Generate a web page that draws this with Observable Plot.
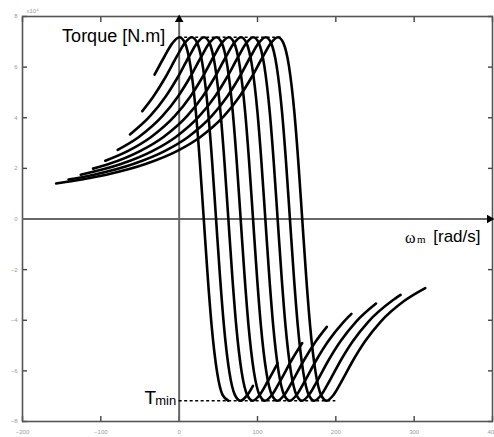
<!DOCTYPE html>
<html>
<head>
<meta charset="utf-8">
<script src="https://cdn.jsdelivr.net/npm/d3@7"></script>
<script src="https://cdn.jsdelivr.net/npm/@observablehq/plot@0.6"></script>
<style>
  html, body { margin: 0; padding: 0; background: #fff; }
</style>
</head>
<body>
<div id="chart"></div>
<script>
// ---- data ----
const xDomain = [-200, 400];
const yDomain = [-8, 8];
const xTicks = [-200, -100, 0, 100, 200, 300, 400];
const yTicks = [-8, -6, -4, -2, 0, 2, 4, 6, 8];
const freqs = [10, 15, 20, 25, 30, 35, 40, 45, 50];

// [speed rad/s, torque] per supply frequency
const f10 = [[-31.4,5.70],[-18.6,6.43],[-8.6,6.95],[0.4,7.18],[7.4,6.95],[14.4,6.05],[21.4,4.20],[26.4,2.26],[31.4,0],[36.4,-2.26],[41.4,-4.20],[48.4,-6.05],[55.4,-6.95],[62.8,-7.18]];
const f15 = [[-47.1,4.26],[-32.9,4.84],[-17.9,5.58],[-2.9,6.43],[7.1,6.95],[16.1,7.18],[23.1,6.95],[30.1,6.05],[37.1,4.20],[42.1,2.26],[47.1,0],[52.1,-2.26],[57.1,-4.20],[64.1,-6.05],[71.1,-6.95],[78.1,-7.18],[87.1,-6.95],[94.2,-6.59]];
const f20 = [[-62.8,3.34],[-37.2,4.06],[-17.2,4.84],[-2.2,5.58],[12.8,6.43],[22.8,6.95],[31.8,7.18],[38.8,6.95],[45.8,6.05],[52.8,4.20],[57.8,2.26],[62.8,0],[67.8,-2.26],[72.8,-4.20],[79.8,-6.05],[86.8,-6.95],[93.8,-7.18],[102.8,-6.95],[112.8,-6.43],[125.7,-5.70]];
const f25 = [[-78.5,2.73],[-51.5,3.24],[-21.5,4.06],[-1.5,4.84],[13.5,5.58],[28.5,6.43],[38.5,6.95],[47.5,7.18],[54.5,6.95],[61.5,6.05],[68.5,4.20],[73.5,2.26],[78.5,0],[83.5,-2.26],[88.5,-4.20],[95.5,-6.05],[102.5,-6.95],[109.5,-7.18],[118.5,-6.95],[128.5,-6.43],[143.5,-5.58],[157.1,-4.90]];
const f30 = [[-94.3,2.30],[-65.8,2.68],[-35.8,3.24],[-5.8,4.06],[14.3,4.84],[29.3,5.58],[44.3,6.43],[54.3,6.95],[63.3,7.18],[70.3,6.95],[77.3,6.05],[84.3,4.20],[89.3,2.26],[94.3,0],[99.3,-2.26],[104.3,-4.20],[111.3,-6.05],[118.3,-6.95],[125.3,-7.18],[134.3,-6.95],[144.3,-6.43],[159.3,-5.58],[174.3,-4.84],[188.5,-4.26]];
const f35 = [[-109.9,1.99],[-90.0,2.17],[-50.0,2.68],[-20.0,3.24],[10.0,4.06],[30.0,4.84],[45.0,5.58],[60.0,6.43],[70.0,6.95],[79.0,7.18],[86.0,6.95],[93.0,6.05],[100.0,4.20],[105.0,2.26],[110.0,0],[115.0,-2.26],[120.0,-4.20],[127.0,-6.05],[134.0,-6.95],[141.0,-7.18],[150.0,-6.95],[160.0,-6.43],[175.0,-5.58],[190.0,-4.84],[210.0,-4.06],[219.9,-3.75]];
const f40 = [[-125.6,1.75],[-74.3,2.17],[-34.3,2.68],[-4.3,3.24],[25.7,4.06],[45.7,4.84],[60.7,5.58],[75.7,6.43],[85.7,6.95],[94.7,7.18],[101.7,6.95],[108.7,6.05],[115.7,4.20],[120.7,2.26],[125.7,0],[130.7,-2.26],[135.7,-4.20],[142.7,-6.05],[149.7,-6.95],[156.7,-7.18],[165.7,-6.95],[175.7,-6.43],[190.7,-5.58],[205.7,-4.84],[225.7,-4.06],[251.3,-3.34]];
const f45 = [[-141.3,1.56],[-108.6,1.75],[-58.6,2.17],[-18.6,2.68],[11.4,3.24],[41.4,4.06],[61.4,4.84],[76.4,5.58],[91.4,6.43],[101.4,6.95],[110.4,7.18],[117.4,6.95],[124.4,6.05],[131.4,4.20],[136.4,2.26],[141.4,0],[146.4,-2.26],[151.4,-4.20],[158.4,-6.05],[165.4,-6.95],[172.4,-7.18],[181.4,-6.95],[191.4,-6.43],[206.4,-5.58],[221.4,-4.84],[241.4,-4.06],[271.4,-3.24],[282.7,-3.00]];
const f50 = [[-157.1,1.40],[-142.9,1.47],[-92.9,1.75],[-42.9,2.17],[-2.9,2.68],[27.1,3.24],[57.1,4.06],[77.1,4.84],[92.1,5.58],[107.1,6.43],[117.1,6.95],[126.1,7.18],[133.1,6.95],[140.1,6.05],[147.1,4.20],[152.1,2.26],[157.1,0],[162.1,-2.26],[167.1,-4.20],[174.1,-6.05],[181.1,-6.95],[188.1,-7.18],[197.1,-6.95],[207.1,-6.43],[222.1,-5.58],[237.1,-4.84],[257.1,-4.06],[287.1,-3.24],[314.2,-2.73]];

const tMax = 7.18;
const tMin = -7.18;
const tMaxLineEnd = 132;  // speed where the dashed Tmax line ends
const tMinLineEnd = 200;  // speed where the dashed Tmin line ends

// ---- build table ----
const series = [f10, f15, f20, f25, f30, f35, f40, f45, f50];
const rows = series.flatMap((pts, i) => pts.map(([w, t]) => ({f: freqs[i], w, t})));

const chart = Plot.plot({
  width: 494,
  height: 437,
  marginLeft: 22,
  marginRight: 2,
  marginTop: 16,
  marginBottom: 16,
  style: {background: "#fff", fontFamily: "'Liberation Sans', Arial, sans-serif"},
  x: {domain: xDomain, label: null},
  y: {domain: yDomain, label: null},
  marks: [
    // tick labels
    Plot.axisX(xTicks, {anchor: "bottom", tickSize: 0, tickPadding: 8, fontSize: 6, fill: "#999", label: null}),
    Plot.axisY(yTicks, {anchor: "left", tickSize: 0, tickPadding: 5, fontSize: 6, fill: "#999", label: null}),
    // inward ticks
    Plot.axisX(xTicks, {anchor: "bottom", tickSize: -5, tickFormat: () => "", stroke: "#444", strokeWidth: 1.4, label: null}),
    Plot.axisX(xTicks, {anchor: "top", tickSize: -5, tickFormat: () => "", stroke: "#444", strokeWidth: 1.4, label: null}),
    Plot.axisY(yTicks, {anchor: "left", tickSize: -5, tickFormat: () => "", stroke: "#444", strokeWidth: 1.4, label: null}),
    Plot.axisY(yTicks, {anchor: "right", tickSize: -5, tickFormat: () => "", stroke: "#444", strokeWidth: 1.4, label: null}),
    Plot.frame({stroke: "#555", strokeWidth: 1.6}),
    // axes through origin
    Plot.ruleY([0], {stroke: "#666", strokeWidth: 2}),
    Plot.ruleX([0], {stroke: "#666", strokeWidth: 2}),
    Plot.dot([0], {x: xDomain[1], y: 0, symbol: "triangle", r: 3.2, fill: "#000", stroke: null, rotate: 90, dx: -3}),
    Plot.dot([0], {x: 0, y: yDomain[1], symbol: "triangle", r: 3.2, fill: "#000", stroke: null, dy: 3}),
    // dashed Tmax / Tmin lines
    Plot.ruleY([tMax], {x1: 0, x2: tMaxLineEnd, stroke: "#000", strokeWidth: 1.3, strokeDasharray: "3,2.5"}),
    Plot.ruleY([tMin], {x1: 0, x2: tMinLineEnd, stroke: "#000", strokeWidth: 1.3, strokeDasharray: "3,2.5"}),
    // torque-speed curves
    Plot.line(rows, {x: "w", y: "t", z: "f", stroke: "#000", strokeWidth: 2.6, curve: "monotone-x"}),
    // annotations
    Plot.text(["Torque [N.m]"], {x: 0, y: tMax, text: d => d, textAnchor: "end", dx: -14, dy: -1, fontSize: 18, fill: "#000"}),
    Plot.text(["T"], {x: 0, y: tMin, text: d => d, textAnchor: "end", dx: -23, dy: -3, fontSize: 19, fill: "#000"}),
    Plot.text(["min"], {x: 0, y: tMin, text: d => d, textAnchor: "end", dx: -3, dy: 0, fontSize: 13, fill: "#000"}),
    Plot.text(["[rad/s]"], {x: xDomain[1], y: 0, text: d => d, textAnchor: "end", dx: -12, dy: 18, fontSize: 17, fill: "#000"}),
    Plot.text(["ω"], {x: xDomain[1], y: 0, text: d => d, textAnchor: "end", dx: -77, dy: 19, fontSize: 16, fill: "#000", fontFamily: "'Liberation Serif', 'Times New Roman', serif"}),
    Plot.text(["m"], {x: xDomain[1], y: 0, text: d => d, textAnchor: "end", dx: -67, dy: 20, fontSize: 11, fill: "#000", fontFamily: "'Liberation Serif', 'Times New Roman', serif"}),
    Plot.text(["x10⁴"], {frameAnchor: "top-left", text: d => d, textAnchor: "start", dx: 4, dy: -8, fontSize: 6, fill: "#999"})
  ]
});
document.getElementById("chart").appendChild(chart);
</script>
</body>
</html>
